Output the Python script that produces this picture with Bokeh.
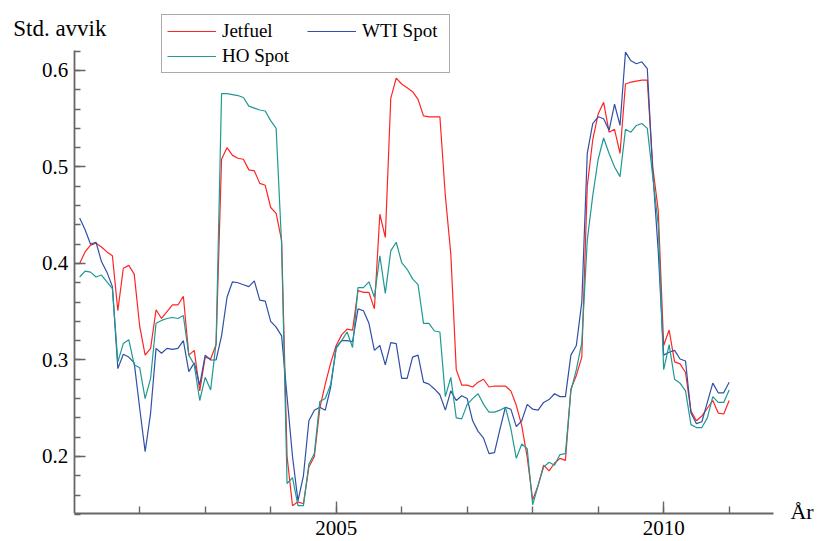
from bokeh.plotting import figure
from bokeh.models import FixedTicker, Legend, LegendItem, Label
from bokeh.embed import file_html
from bokeh.resources import INLINE

# Monthly observations, Jan 2001 .. Dec 2010
months = [(y, m) for y in range(2001, 2011) for m in range(1, 13)]
x_years = [y + m / 12.0 for (y, m) in months]

wti_spot = [
    0.447, 0.435, 0.420, 0.422, 0.402, 0.391, 0.376, 0.291, 0.306, 0.303, 0.297, 0.250,
    0.205, 0.245, 0.312, 0.307, 0.312, 0.311, 0.312, 0.320, 0.288, 0.297, 0.274, 0.305,
    0.300, 0.300, 0.325, 0.365, 0.381, 0.380, 0.378, 0.376, 0.382, 0.362, 0.361, 0.340,
    0.334, 0.325, 0.262, 0.200, 0.154, 0.180, 0.237, 0.248, 0.251, 0.248, 0.272, 0.313,
    0.320, 0.320, 0.319, 0.353, 0.351, 0.338, 0.310, 0.315, 0.295, 0.318, 0.317, 0.281,
    0.281, 0.303, 0.305, 0.277, 0.275, 0.270, 0.264, 0.248, 0.268, 0.258, 0.263, 0.260,
    0.237, 0.226, 0.219, 0.203, 0.204, 0.228, 0.251, 0.249, 0.231, 0.237, 0.254, 0.249,
    0.248, 0.256, 0.259, 0.265, 0.262, 0.262, 0.305, 0.315, 0.360, 0.514, 0.545, 0.552,
    0.550, 0.538, 0.565, 0.543, 0.619, 0.610, 0.607, 0.609, 0.602, 0.495, 0.413, 0.305,
    0.308, 0.310, 0.301, 0.299, 0.245, 0.234, 0.236, 0.256, 0.276, 0.266, 0.266, 0.277,
]

jetfuel = [
    0.400, 0.412, 0.419, 0.421, 0.417, 0.412, 0.408, 0.351, 0.395, 0.398, 0.389, 0.335,
    0.305, 0.312, 0.352, 0.343, 0.350, 0.357, 0.357, 0.366, 0.305, 0.310, 0.268, 0.303,
    0.301, 0.316, 0.508, 0.520, 0.512, 0.509, 0.508, 0.497, 0.496, 0.483, 0.481, 0.458,
    0.452, 0.424, 0.200, 0.149, 0.153, 0.151, 0.189, 0.200, 0.250, 0.275, 0.297, 0.315,
    0.326, 0.332, 0.331, 0.372, 0.370, 0.370, 0.353, 0.451, 0.427, 0.571, 0.592, 0.586,
    0.582, 0.578, 0.570, 0.553, 0.552, 0.552, 0.552, 0.470, 0.410, 0.290, 0.274, 0.274,
    0.272, 0.277, 0.280, 0.272, 0.273, 0.273, 0.273, 0.268, 0.253, 0.232, 0.199, 0.155,
    0.170, 0.191, 0.185, 0.193, 0.198, 0.196, 0.270, 0.284, 0.303, 0.480, 0.528, 0.555,
    0.567, 0.536, 0.539, 0.514, 0.586, 0.588, 0.589, 0.590, 0.590, 0.500, 0.455, 0.315,
    0.331, 0.298, 0.296, 0.287, 0.247, 0.237, 0.242, 0.250, 0.258, 0.245, 0.244, 0.258,
]

ho_spot = [
    0.386, 0.392, 0.391, 0.386, 0.388, 0.381, 0.374, 0.298, 0.317, 0.321, 0.295, 0.292,
    0.260, 0.281, 0.338, 0.341, 0.343, 0.344, 0.343, 0.346, 0.305, 0.295, 0.258, 0.282,
    0.269, 0.318, 0.576, 0.576, 0.575, 0.574, 0.572, 0.563, 0.561, 0.559, 0.558, 0.548,
    0.540, 0.420, 0.172, 0.178, 0.149, 0.149, 0.192, 0.203, 0.257, 0.260, 0.275, 0.312,
    0.320, 0.329, 0.313, 0.375, 0.375, 0.381, 0.365, 0.408, 0.369, 0.413, 0.422, 0.401,
    0.394, 0.384, 0.378, 0.338, 0.338, 0.330, 0.329, 0.262, 0.282, 0.240, 0.239, 0.254,
    0.260, 0.265, 0.254, 0.246, 0.246, 0.248, 0.251, 0.229, 0.198, 0.213, 0.208, 0.150,
    0.170, 0.189, 0.194, 0.191, 0.202, 0.203, 0.268, 0.290, 0.318, 0.424, 0.470, 0.508,
    0.530, 0.514, 0.500, 0.490, 0.539, 0.536, 0.543, 0.545, 0.540, 0.490, 0.440, 0.290,
    0.316, 0.280, 0.276, 0.268, 0.233, 0.230, 0.230, 0.240, 0.262, 0.256, 0.256, 0.269,
]

x_major_ticks = [2005, 2010]
x_minor_ticks = [2002, 2003, 2004, 2005, 2006, 2007, 2008, 2009, 2010, 2011]
y_major_ticks = [0.2, 0.3, 0.4, 0.5, 0.6]
y_minor_ticks = [0.14, 0.16, 0.18, 0.20, 0.22, 0.24, 0.26, 0.28, 0.30, 0.32, 0.34,
                 0.36, 0.38, 0.40, 0.42, 0.44, 0.46, 0.48, 0.50, 0.52, 0.54, 0.56,
                 0.58, 0.60, 0.62]

X_AXIS_START, X_AXIS_END = 2001.0, 2011.67
Y_AXIS_START, Y_AXIS_END = 0.1405, 0.621

FONT = "Liberation Serif"
AXIS_COL = "#666666"

p = figure(
    frame_width=819, frame_height=541,
    min_border_left=0, min_border_top=0, min_border_right=0, min_border_bottom=0,
    x_range=(1999.875, 2012.379), y_range=(0.1119, 0.6725),
    output_backend="svg", toolbar_location=None, title=None,
)
p.background_fill_color = "white"
p.border_fill_color = "white"
p.outline_line_color = None
p.xgrid.visible = False
p.ygrid.visible = False

r_jet = p.line(x_years, jetfuel, line_color="#ff2424", line_width=1.2)
r_wti = p.line(x_years, wti_spot, line_color="#3050a8", line_width=1.2)
r_ho = p.line(x_years, ho_spot, line_color="#1f9993", line_width=1.2)

for ax in (p.xaxis[0], p.yaxis[0]):
    ax.axis_line_color = AXIS_COL
    ax.axis_line_width = 1.8
    ax.major_tick_line_color = AXIS_COL
    ax.minor_tick_line_color = AXIS_COL
    ax.major_tick_line_width = 1.4
    ax.minor_tick_line_width = 1.4
    ax.major_tick_out = 0
    ax.minor_tick_out = 0
    ax.major_label_text_font = FONT
    ax.major_label_text_font_size = "21px"
    ax.major_label_text_color = "black"

p.xaxis[0].ticker = FixedTicker(ticks=x_major_ticks, minor_ticks=x_minor_ticks)
p.xaxis[0].fixed_location = Y_AXIS_START
p.xaxis[0].bounds = (X_AXIS_START, X_AXIS_END)
p.xaxis[0].major_tick_in = 12
p.xaxis[0].minor_tick_in = 7
p.xaxis[0].major_label_standoff = 7

p.yaxis[0].ticker = FixedTicker(ticks=y_major_ticks, minor_ticks=y_minor_ticks)
p.yaxis[0].fixed_location = X_AXIS_START
p.yaxis[0].bounds = (Y_AXIS_START, Y_AXIS_END)
p.yaxis[0].major_tick_in = 11
p.yaxis[0].minor_tick_in = 6
p.yaxis[0].major_label_standoff = 6

p.add_layout(Label(x=2000.069, y=0.643, text="Std. avvik", text_font=FONT,
                   text_font_size="23px", text_color="black",
                   text_baseline="alphabetic", text_align="left"))
p.add_layout(Label(x=2011.936, y=0.1425, text="År", text_font=FONT,
                   text_font_size="22px", text_color="black",
                   text_baseline="alphabetic", text_align="left"))

legend = Legend(
    items=[LegendItem(label="Jetfuel", renderers=[r_jet]),
           LegendItem(label="WTI Spot", renderers=[r_wti]),
           LegendItem(label="HO Spot", renderers=[r_ho])],
    orientation="horizontal", ncols=2,
    location=(161, 468),
    label_text_font=FONT, label_text_font_size="19px", label_text_color="black",
    glyph_width=49, glyph_height=22, label_height=22, label_width=82,
    label_standoff=6, spacing=3, padding=5, margin=0,
    border_line_color="#555555", border_line_width=1.5,
    background_fill_color="white", background_fill_alpha=1.0,
)
p.add_layout(legend, "center")

open("out.html", "w").write(file_html(p, INLINE))
